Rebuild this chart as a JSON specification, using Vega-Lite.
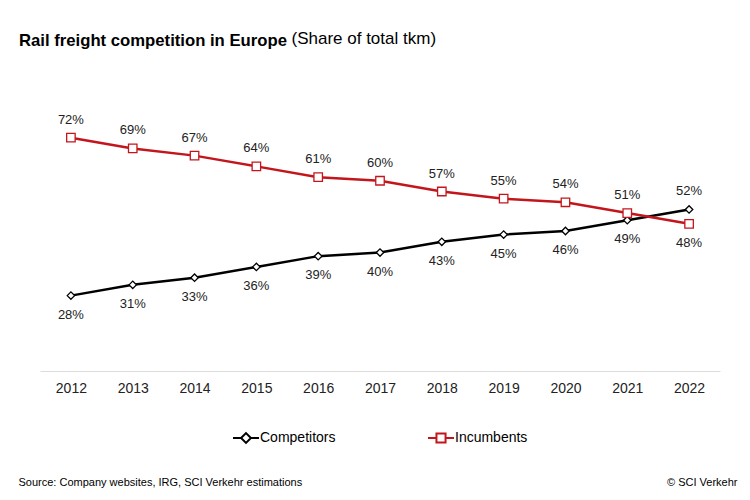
{
  "$schema": "https://vega.github.io/schema/vega-lite/v6.json",
  "width": 680,
  "height": 280,
  "autosize": {"type": "none"},
  "padding": {"left": 40, "top": 91, "right": 30, "bottom": 129},
  "background": "white",
  "config": {"view": {"stroke": null}, "font": "Liberation Sans"},
  "title": {
    "text": "Rail freight competition in Europe",
    "fontSize": 16.7,
    "fontWeight": "bold",
    "font": "Liberation Sans",
    "color": "#000000",
    "anchor": "start",
    "frame": "group",
    "dx": -21,
    "baseline": "alphabetic",
    "offset": -33.5
  },
  "data": {
    "values": [
      {"year": "2012", "series": "Competitors", "value": 0.28},
      {"year": "2013", "series": "Competitors", "value": 0.31},
      {"year": "2014", "series": "Competitors", "value": 0.33},
      {"year": "2015", "series": "Competitors", "value": 0.36},
      {"year": "2016", "series": "Competitors", "value": 0.39},
      {"year": "2017", "series": "Competitors", "value": 0.40},
      {"year": "2018", "series": "Competitors", "value": 0.43},
      {"year": "2019", "series": "Competitors", "value": 0.45},
      {"year": "2020", "series": "Competitors", "value": 0.46},
      {"year": "2021", "series": "Competitors", "value": 0.49},
      {"year": "2022", "series": "Competitors", "value": 0.52},
      {"year": "2012", "series": "Incumbents", "value": 0.72},
      {"year": "2013", "series": "Incumbents", "value": 0.69},
      {"year": "2014", "series": "Incumbents", "value": 0.67},
      {"year": "2015", "series": "Incumbents", "value": 0.64},
      {"year": "2016", "series": "Incumbents", "value": 0.61},
      {"year": "2017", "series": "Incumbents", "value": 0.60},
      {"year": "2018", "series": "Incumbents", "value": 0.57},
      {"year": "2019", "series": "Incumbents", "value": 0.55},
      {"year": "2020", "series": "Incumbents", "value": 0.54},
      {"year": "2021", "series": "Incumbents", "value": 0.51},
      {"year": "2022", "series": "Incumbents", "value": 0.48}
    ]
  },
  "encoding": {
    "x": {
      "field": "year",
      "type": "ordinal",
      "scale": {"type": "point", "padding": 0.5},
      "axis": {
        "title": "Source: Company websites, IRG, SCI Verkehr estimations",
        "titleX": -22,
        "titleY": 114,
        "titleAlign": "left",
        "titleBaseline": "alphabetic",
        "titleFontSize": 11,
        "titleFontWeight": "normal",
        "titleColor": "#000000",
        "titleFont": "Liberation Sans",
        "labelAngle": 0,
        "labelFontSize": 14,
        "labelColor": "#222222",
        "labelFont": "Liberation Sans",
        "labelPadding": 10,
        "ticks": false,
        "grid": false,
        "domainColor": "#dcdcdc",
        "domainWidth": 1
      }
    }
  },
  "layer": [
    {
      "encoding": {
        "y": {
          "field": "value",
          "type": "quantitative",
          "scale": {"domain": [0.07, 0.85]},
          "axis": {
            "title": "(Share of total tkm)",
            "titleAngle": 0,
            "titleX": 251,
            "titleY": -47.5,
            "titleAlign": "left",
            "titleBaseline": "alphabetic",
            "titleFontSize": 17,
            "titleFontWeight": "normal",
            "titleColor": "#000000",
            "titleFont": "Liberation Sans",
            "labels": false,
            "ticks": false,
            "domain": false,
            "grid": false
          }
        }
      },
      "layer": [
        {
          "mark": {"type": "line", "strokeWidth": 2.5},
          "encoding": {
            "stroke": {
              "field": "series",
              "type": "nominal",
              "scale": {"domain": ["Competitors", "Incumbents"], "range": ["#000000", "#c3161c"]},
              "legend": null
            }
          }
        },
        {
          "mark": {"type": "point", "fill": "white", "opacity": 1, "strokeWidth": 1.3},
          "encoding": {
            "stroke": {"field": "series", "type": "nominal", "legend": null},
            "shape": {
              "field": "series",
              "type": "nominal",
              "scale": {"domain": ["Competitors", "Incumbents"], "range": ["diamond", "square"]},
              "legend": null
            },
            "size": {
              "field": "series",
              "type": "nominal",
              "scale": {"domain": ["Competitors", "Incumbents"], "range": [55, 72]},
              "legend": null
            }
          }
        },
        {
          "transform": [{"filter": "datum.series === 'Competitors'"}],
          "mark": {"type": "point", "filled": false, "opacity": 0},
          "encoding": {
            "color": {
              "field": "series",
              "type": "nominal",
              "scale": {"domain": ["Competitors"], "range": ["#000000"]},
              "legend": {
                "orient": "none",
                "legendX": 192,
                "legendY": 333,
                "title": null,
                "labelFontSize": 14,
                "labelFont": "Liberation Sans",
                "labelColor": "#000000",
                "symbolType": "M-1,0L-0.38,0M0.38,0L1,0M-0.38,0L0,-0.38L0.38,0L0,0.38Z",
                "symbolSize": 676,
                "symbolStrokeWidth": 2,
                "symbolFillColor": "white",
                "symbolOpacity": 1,
                "labelOffset": 0
              }
            }
          }
        },
        {
          "transform": [{"filter": "datum.series === 'Incumbents'"}],
          "mark": {"type": "point", "filled": false, "opacity": 0},
          "encoding": {
            "color": {
              "field": "series",
              "type": "nominal",
              "scale": {"domain": ["Incumbents"], "range": ["#c3161c"]},
              "legend": {
                "orient": "none",
                "legendX": 387,
                "legendY": 333,
                "title": null,
                "labelFontSize": 14,
                "labelFont": "Liberation Sans",
                "labelColor": "#000000",
                "symbolType": "M-1,0L-0.35,0M0.35,0L1,0M-0.35,-0.35L0.35,-0.35L0.35,0.35L-0.35,0.35Z",
                "symbolSize": 676,
                "symbolStrokeWidth": 2,
                "symbolFillColor": "white",
                "symbolOpacity": 1,
                "labelOffset": 0
              }
            }
          }
        },
        {
          "transform": [{"filter": "(datum.series === 'Incumbents' && datum.year !== '2022') || (datum.series === 'Competitors' && datum.year === '2022')"}],
          "mark": {"type": "text", "dy": -18, "fontSize": 13, "font": "Liberation Sans", "color": "#222222", "baseline": "middle"},
          "encoding": {"text": {"field": "value", "type": "quantitative", "format": ".0%"}}
        },
        {
          "transform": [{"filter": "(datum.series === 'Competitors' && datum.year !== '2022') || (datum.series === 'Incumbents' && datum.year === '2022')"}],
          "mark": {"type": "text", "dy": 19, "fontSize": 13, "font": "Liberation Sans", "color": "#222222", "baseline": "middle"},
          "encoding": {"text": {"field": "value", "type": "quantitative", "format": ".0%"}}
        }
      ],
      "resolve": {"scale": {"color": "independent"}}
    },
    {
      "mark": {"type": "point", "opacity": 0},
      "encoding": {
        "y": {
          "field": "value",
          "type": "quantitative",
          "scale": {"domain": [0.07, 0.85]},
          "axis": {
            "orient": "right",
            "title": "© SCI Verkehr",
            "titleAngle": 0,
            "titleX": 17,
            "titleY": 394,
            "titleAlign": "right",
            "titleBaseline": "alphabetic",
            "titleFontSize": 11,
            "titleFontWeight": "normal",
            "titleColor": "#000000",
            "titleFont": "Liberation Sans",
            "labels": false,
            "ticks": false,
            "domain": false,
            "grid": false
          }
        }
      }
    }
  ],
  "resolve": {"axis": {"y": "independent"}}
}
